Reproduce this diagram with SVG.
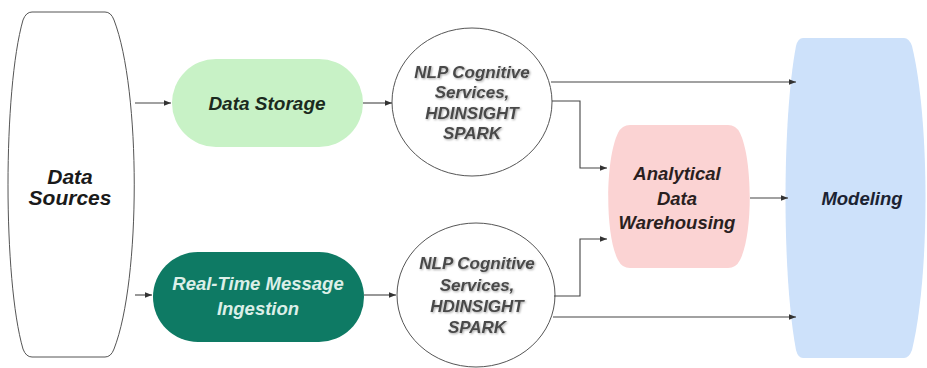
<svg xmlns="http://www.w3.org/2000/svg" width="927" height="368" viewBox="0 0 927 368">
<style>
.t{font-family:"Liberation Sans",Arial,sans-serif;font-weight:bold;font-style:italic;text-anchor:middle;dominant-baseline:central}
.c{fill:none;stroke:#444;stroke-width:1.1}
</style>
<defs>
<marker id="ah" viewBox="0 0 10 10" refX="10" refY="5" markerWidth="9" markerHeight="7" markerUnits="userSpaceOnUse" orient="auto">
<path d="M0,1 L10,5 L0,9 Z" fill="#333"/>
</marker>
<filter id="sh" x="-10%" y="-10%" width="120%" height="130%">
<feDropShadow dx="1" dy="1" stdDeviation="0.8" flood-color="#000" flood-opacity="0.35"/>
</filter>
</defs>
<rect width="927" height="368" fill="#fff"/>
<g id="data-sources">
<path d="M32,12 L105,12 Q111,12 114,20 C141,90 141,280 114,349 Q111,357 105,357 L32,357 Q26,357 23,349 C3,280 3,90 23,20 Q26,12 32,12 Z" fill="#fff" stroke="#555" stroke-width="1"/>
<text class="t" x="70" y="176" font-size="21" fill="#1a1a1a">Data</text>
<text class="t" x="70" y="197" font-size="21" fill="#1a1a1a">Sources</text>
</g>
<g id="data-storage">
<rect x="172" y="59" width="191" height="88" rx="44" fill="#c8f2c6"/>
<text class="t" x="267" y="103" font-size="19" fill="#1b2a1e">Data Storage</text>
</g>
<g id="realtime">
<rect x="153" y="252" width="211" height="90" rx="45" fill="#0e7a64"/>
<text class="t" x="258" y="283" font-size="18.5" fill="#dcefe8">Real-Time Message</text>
<text class="t" x="258" y="308" font-size="18.5" fill="#dcefe8">Ingestion</text>
</g>
<g id="nlp-1">
<ellipse cx="472" cy="102" rx="80" ry="74" fill="#fff" stroke="#555" stroke-width="1"/>
<g class="t" font-size="17" fill="#4a4a4a" filter="url(#sh)">
<text x="472" y="72">NLP Cognitive</text>
<text x="472" y="92">Services,</text>
<text x="472" y="113">HDINSIGHT</text>
<text x="472" y="133">SPARK</text>
</g>
</g>
<g id="nlp-2">
<ellipse cx="476" cy="295" rx="79" ry="72" fill="#fff" stroke="#555" stroke-width="1"/>
<g class="t" font-size="17" fill="#4a4a4a" filter="url(#sh)">
<text x="477" y="263">NLP Cognitive</text>
<text x="477" y="285">Services,</text>
<text x="477" y="306">HDINSIGHT</text>
<text x="477" y="327">SPARK</text>
</g>
</g>
<g id="warehouse">
<path d="M630,125 L728,125 Q736,125 740,133 C753,160 753,235 740,260 Q736,268 728,268 L630,268 Q622,268 618,260 C605,235 605,160 618,133 Q622,125 630,125 Z" fill="#fbd3d3"/>
<text class="t" x="677" y="173" font-size="18.5" fill="#2a1f1f">Analytical</text>
<text class="t" x="677" y="198" font-size="18.5" fill="#2a1f1f">Data</text>
<text class="t" x="677" y="222" font-size="18.5" fill="#2a1f1f">Warehousing</text>
</g>
<g id="modeling">
<path d="M803,38 L904,38 Q909,38 912,46 C930,120 930,276 912,350 Q909,358 904,358 L803,358 Q798,358 796,350 C782,276 782,120 796,46 Q798,38 803,38 Z" fill="#cde1fa"/>
<text class="t" x="862" y="198" font-size="18.5" fill="#1b2332">Modeling</text>
</g>
<g id="connectors">
<path class="c" d="M135,103 H171" marker-end="url(#ah)"/>
<path class="c" d="M135,295 H152" marker-end="url(#ah)"/>
<path class="c" d="M363,103 H392" marker-end="url(#ah)"/>
<path class="c" d="M364,295 H396" marker-end="url(#ah)"/>
<path class="c" d="M551,82 H796" marker-end="url(#ah)"/>
<path class="c" d="M552,101 H580 V168 H607" marker-end="url(#ah)"/>
<path class="c" d="M554,296 H580 V239 H607" marker-end="url(#ah)"/>
<path class="c" d="M553,317 H796" marker-end="url(#ah)"/>
<path class="c" d="M750,198 H788" marker-end="url(#ah)"/>
</g>
</svg>
